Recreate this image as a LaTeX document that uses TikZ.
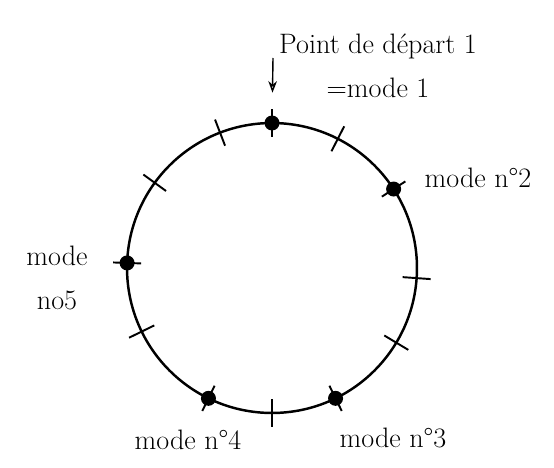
\documentclass[tikz,border=0pt]{standalone}
\usepackage{fontspec}
\usetikzlibrary{arrows.meta,positioning}
\tikzset{
  modept/.style={circle,fill=black,inner sep=0pt,minimum size=0.3cm},
  ticktrait/.style={line width=1.1pt},
  lbl/.style={font=\fontsize{16}{25}\selectfont}
}

\begin{document}
\begin{tikzpicture}[x=0.02cm,y=0.02cm]
  \useasboundingbox (0,0) rectangle (554,467);

  % Draw the circle
  \coordinate (c) at (272,199);
  \draw[line width=1.4pt] (c) circle[radius=2.9cm];

  % Ticks on the circle
  \foreach \a in {111,63,144,-4,-31,-90,-154,90,33,-64,-116,178}
    \draw[ticktrait] ([shift={(\a:131)}]c) -- ([shift={(\a:159)}]c);

  % Modes
  \node[modept] (m1) at ([shift={(90:145)}]c) {};
  \node[modept] (m2) at ([shift={(33:145)}]c) {};
  \node[modept] (m3) at ([shift={(-64:145)}]c) {};
  \node[modept] (m4) at ([shift={(-116:145)}]c) {};
  \node[modept] (m5) at ([shift={(178:145)}]c) {};

  % Labels
  \node[lbl,align=center] (l1) at (378,401) {Point de départ 1\\=mode 1};
  \node[lbl] (l2) at (478,289) {mode n°2};
  \node[lbl] (l3) at (393,29) {mode n°3};
  \node[lbl] (l4) at (188,27) {mode n°4};
  \node[lbl,align=center] (l5) at (57,189) {mode\\no5};

  % Arrow to the starting point
  \coordinate (a1) at (273,409);
  \draw[-{Stealth[open]},thick,shorten >=0.45cm] (a1) -- (m1);
\end{tikzpicture}
\end{document}
